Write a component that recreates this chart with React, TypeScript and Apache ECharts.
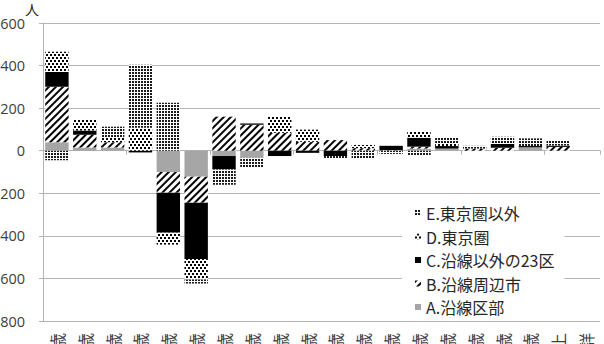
import React, { useEffect, useRef } from "react";
import * as echarts from "echarts";

const categories = [
  "0～4歳", "5～9歳", "10～14歳", "15～19歳", "20～24歳", "25～29歳", "30～34歳",
  "35～39歳", "40～44歳", "45～49歳", "50～54歳", "55～59歳", "60～64歳", "65～69歳",
  "70～74歳", "75～79歳", "80～84歳", "85～89歳", "90歳以上", "年齢不詳",
];

const seriesNames = ["A.沿線区部", "B.沿線周辺市", "C.沿線以外の23区", "D.東京圏", "E.東京圏以外"];

const valuesA = [40, 15, 15, 0, -100, -122, -25, -33, 0, 0, 0, 0, 0, 10, 10, 0, 0, 16, 0, 0];
const valuesB = [260, 60, 25, 0, -97, -122, 160, 122, 84, 42, 50, 12, 3, 9, 0, 10, 14, 0, 18, 0];
const valuesC = [70, 20, 0, -8, -188, -265, -63, 6, -25, -10, -25, 0, 20, 42, 12, 0, 18, 6, 6, 0];
const valuesD = [95, 50, 22, 108, -56, -96, 0, 0, 76, 57, 0, 15, 0, 28, 10, 0, 0, 0, 0, 0];
const valuesE = [-45, 0, 51, 296, 225, -19, -72, -47, 0, 0, -14, -38, -15, -20, 28, 13, 34, 36, 24, 0];

const yTicks = { min: -800, max: 600, interval: 200 };

export default function App() {
  const ref = useRef<HTMLDivElement>(null);
  useEffect(() => {
    if (!ref.current) return;
    const chart = echarts.init(ref.current, undefined, { renderer: "svg" });
    const axisGray = "#b4b4b4";
    const textColor = "#404040";
    const jp = "'Noto Sans CJK JP', 'Noto Sans', sans-serif";

    const decals: any[] = [
      null,
      {
        symbol: "rect", symbolSize: 1, color: "#000",
        dashArrayX: [1, 0], dashArrayY: [1.8, 2.2], rotation: -Math.PI / 4,
      },
      null,
      {
        symbol: "rect", symbolSize: 1, color: "#000",
        dashArrayX: [[2, 2], [0, 2, 2, 0]], dashArrayY: [2, 1],
      },
      {
        symbol: "rect", symbolSize: 1, color: "#1a1a1a",
        dashArrayX: [2, 1], dashArrayY: [2, 1],
      },
    ];
    const baseColors = ["#a6a6a6", "#ffffff", "#000000", "#ffffff", "#ffffff"];
    const allValues = [valuesA, valuesB, valuesC, valuesD, valuesE];

    const series = seriesNames.map((name, i) => {
      const itemStyle: any = { color: baseColors[i] };
      if (decals[i]) itemStyle.decal = decals[i];
      return {
        name,
        type: "bar",
        stack: "total",
        xAxisIndex: 0,
        yAxisIndex: 0,
        barCategoryGap: "16%",
        itemStyle,
        data: allValues[i],
      };
    });

    chart.setOption({
      animation: false,
      grid: {
        left: 43, right: 4, top: 23, bottom: 23,
        containLabel: false, outerBoundsMode: "none",
      },
      xAxis: [
        {
          type: "category",
          data: categories,
          axisLine: { onZero: true, lineStyle: { color: axisGray, width: 1 } },
          axisTick: { show: true, length: 4, lineStyle: { color: axisGray } },
          axisLabel: { show: false },
          splitLine: { show: false },
        },
        {
          type: "category",
          data: categories,
          position: "bottom",
          axisLine: { show: false, onZero: false },
          axisTick: { show: false },
          axisLabel: {
            show: true, rotate: 90, margin: 12, color: textColor,
            fontFamily: jp, fontSize: 16, interval: 0, hideOverlap: false,
          },
          splitLine: { show: false },
        },
      ],
      yAxis: {
        type: "value",
        min: yTicks.min,
        max: yTicks.max,
        interval: yTicks.interval,
        axisLine: { show: true, lineStyle: { color: axisGray } },
        axisTick: { show: true, length: 4, lineStyle: { color: axisGray } },
        axisLabel: {
          color: textColor, fontFamily: "'Open Sans', sans-serif", fontSize: 14.5, margin: 18,
          formatter: (v: number) => String(Math.abs(v)),
        },
        splitLine: { show: true, lineStyle: { color: axisGray, width: 1 } },
      },
      legend: {
        orient: "vertical",
        left: 402,
        top: 200,
        padding: [5, 10, 4, 13],
        backgroundColor: "#ffffff",
        itemWidth: 6,
        itemHeight: 6,
        itemGap: 7.5,
        itemTextGap: 6,
        icon: "rect",
        data: [...seriesNames].reverse(),
        textStyle: { color: "#262626", fontFamily: jp, fontSize: 16 },
        selectedMode: false,
      },
      graphic: [
        {
          type: "text", left: 25, top: 2,
          style: { text: "人", font: `14px ${jp}`, fill: "#262626" },
        },
      ],
      series,
    });
    return () => chart.dispose();
  }, []);
  return (
    <div
      ref={ref}
      style={{ position: "fixed", left: 0, top: 0, width: 604, height: 344, background: "#fff" }}
    />
  );
}
